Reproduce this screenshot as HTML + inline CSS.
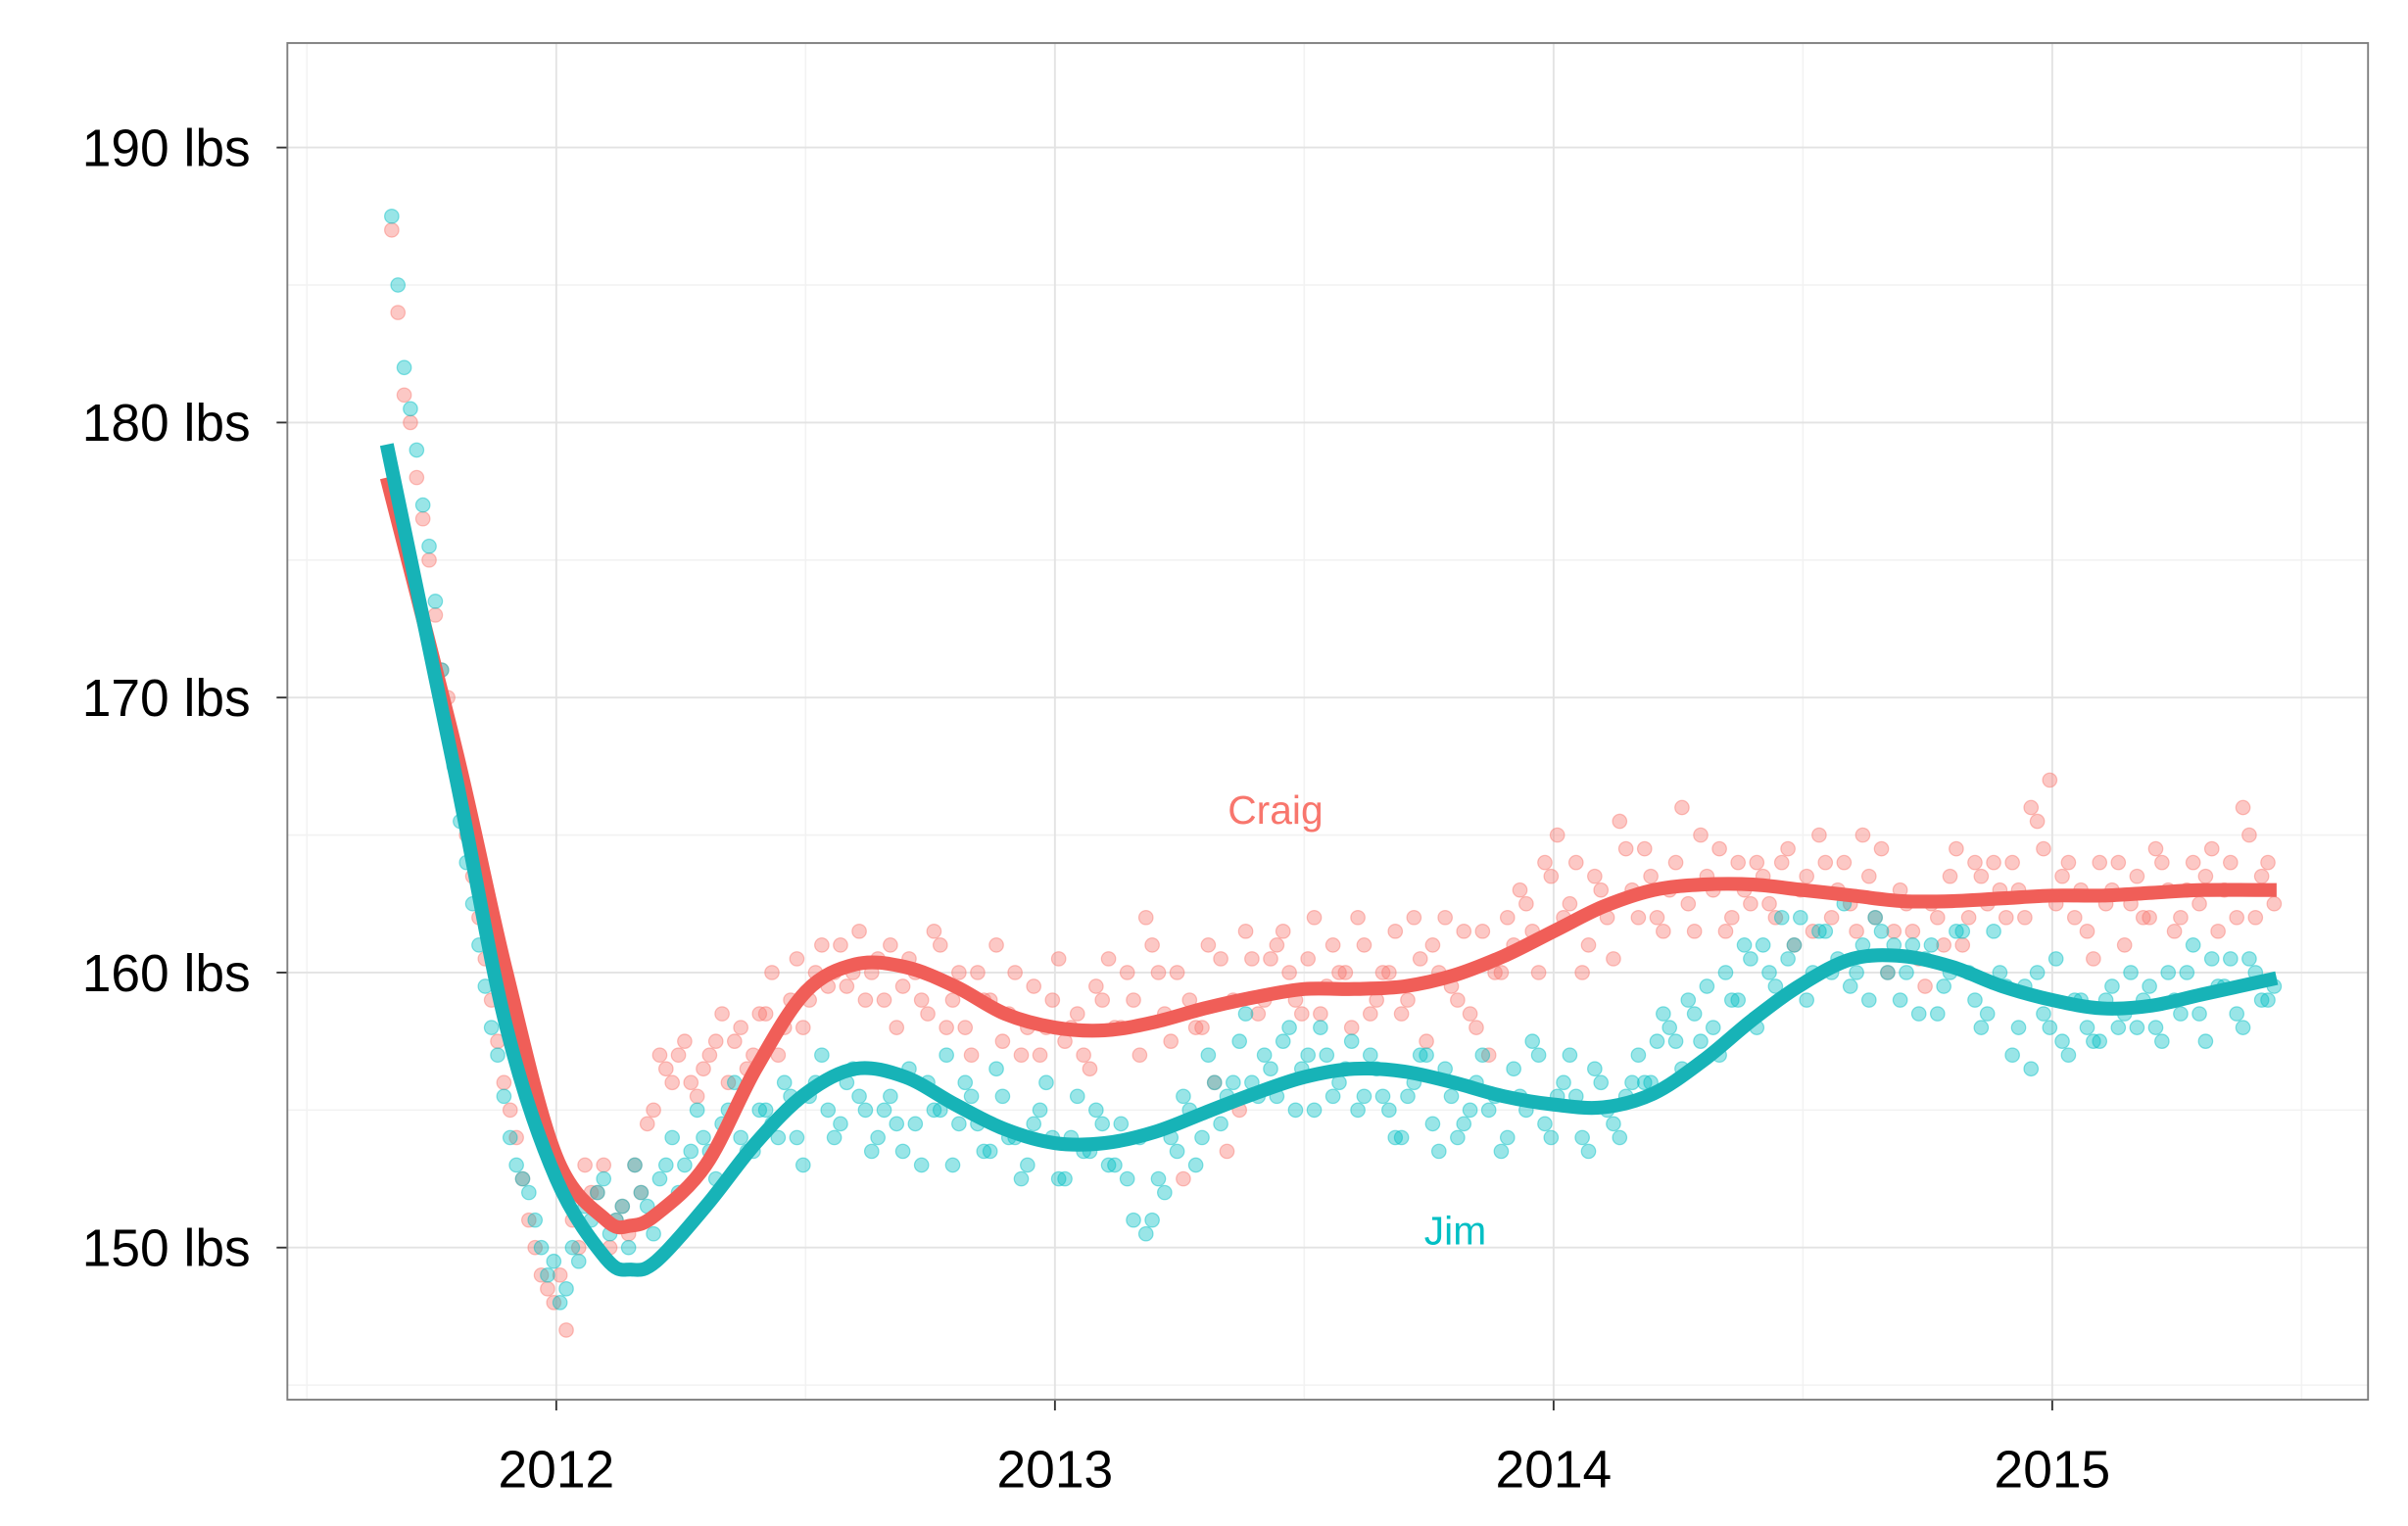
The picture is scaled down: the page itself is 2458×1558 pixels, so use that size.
<!DOCTYPE html>
<html><head><meta charset="utf-8"><style>
html,body{margin:0;padding:0;background:#fff;}
svg{display:block;}
text{font-family:"Liberation Sans",Arial,sans-serif;}
</style></head><body>
<svg id="chart" width="2458" height="1558" viewBox="0 0 1567 993.2" xmlns="http://www.w3.org/2000/svg">
<rect x="0" y="0" width="1567" height="994" fill="#fff"/>
<g id="grid"></g>
<g id="points"></g>
<g id="lines"></g>
<g id="axes"></g>
<rect x="187" y="28" width="1354" height="883" fill="none" stroke="#7f7f7f" stroke-width="1.2"/>
<text x="830" y="536" fill="#F8766D" font-size="26" text-anchor="middle">Craig</text>
<text x="947" y="810" fill="#00BFC4" font-size="26" text-anchor="middle">Jim</text>
</svg>
<script>
const yTicks=[150,160,170,180,190];
const yTickLabels=["150 lbs","160 lbs","170 lbs","180 lbs","190 lbs"];
const xTicks=[2012,2013,2014,2015];
const xTickLabels=["2012","2013","2014","2015"];
const pointStart=2011.67, pointStep=0.025;
const craigPoints=[187,181,178,175,171,168,165,162,159,156,
154,151,149,148,147,150,152,153,151,150.5,
152,155,156.5,157,156,156.5,157.5,156,158,157,
158.5,157,159,158,160,159.5,161,160,159,160.5,
161,159.5,160,158.5,161,159,158,160,159,157.5,
160,158,157,159,157.5,158.5,156.5,159,158,160,
157,161,158.5,160,159,158,156,153.5,155,160.5,
159,161,160,158.5,162,159.5,160,158,161,159,
160,158.5,162,157.5,160,159.5,161.5,158,157,160,
161,162.5,160,163.5,162,164,161,163,160.5,164.5,
162,163.5,161.5,164,162.5,165,163,161.5,164,162.5,
163.5,162,164.5,163,161.5,164,163,162.5,165,162,
160,163,161.5,159.5,162,163.5,161,164,162.5,163,
164,162,165.5,167,163.5,162,161.5,164,163,161,
163.5,162,164,161.5,163,162.5,164.5,163,162,165,163.5,162.5];
const craigPoints2=[184,180,176.5,173,170,166.5,163.5,160.5,157.5,155,
152.5,150,148.5,149,151,153,152,150,151.5,153,
154.5,157,156,157.5,155.5,157,158.5,157.5,156.5,158.5,
160,158,160.5,159,161,160,159.5,161.5,160,159,
158,160.5,159,161.5,158,160,157,159,161,158.5,
157,159.5,158,160.5,158,157,159.5,160.5,158,159,
162,160,157.5,152.5,158,161,160.5,159,161.5,158.5,
160.5,161.5,159,160.5,158.5,161,160,162,158.5,160,
161.5,159,160.5,161,162,159,158.5,161.5,160,162,
163,161.5,164,165,162.5,160,163.5,162,165.5,163,
164.5,162,163,166,161.5,163.5,164.5,162,163,164,
162.5,164,161,163.5,165,162,164,161.5,163.5,164.5,
161.5,162.5,160.5,162.5,161,164.5,162,163.5,164,162,
163,166,164.5,162.5,164,163,160.5,162.5,164,162.5,
162,164.5,163,162,164,163.5,161.5,164,166,162,164];
const jimPoints=[187.5,182,179,175.5,171,167.5,164,161,158,155.5,
153,152,150,149.5,148.5,149.5,151,152.5,151,150,
152,150.5,153,152,153.5,154,152.5,155,154,153.5,
155,154,155.5,153,156,155,154.5,156.5,155,154,
155.5,153.5,154.5,156,155,153,156,154.5,153.5,155.5,
154,153,155,154,152.5,155.5,153.5,154.5,153,152.5,
154,151,152,153.5,155,154,156,155.5,157.5,156,
157,155.5,158,156.5,155,157,156,157.5,155.5,156.5,
155,154,156,157,153.5,155.5,154.5,156,155,153.5,
156.5,155,157,154,156,155.5,153.5,156,154.5,155.5,
157,156,158.5,157.5,159,157.5,158,160,159,160.5,
161,159.5,160.5,162,160,161.5,160.5,159.5,161,162,
160,159,161,160.5,158.5,160,161.5,159,158.5,160,
157,159.5,160,158,157.5,159,158,157.5,159.5,158.5,
158,159.5,157.5,159,160,158.5,160.5,159.5,158.5,160.5,159,159.5];
const jimPoints2=[185,180.5,177,173.5,169,165.5,162.5,159.5,157,154,
152.5,151,149,148,150,151.5,152,150.5,151.5,153,
151.5,152.5,154,153,155,153.5,154.5,156,153.5,155,
154.5,156,154,155.5,157,154,156,155.5,153.5,155,
154.5,156.5,153,155,157,154.5,155.5,153.5,156.5,154,
152.5,154.5,156,152.5,154,153.5,155,153,154.5,151,
150.5,152.5,154,155.5,153,157,154.5,156,158.5,155.5,
156.5,157.5,155,157,158,155.5,156.5,155,157,155.5,
154,155.5,157,154.5,156.5,154,155,157,155.5,154,
155.5,157.5,154.5,155.5,157,154,156.5,155,154,156,
156,157.5,158,156.5,158.5,159.5,157,159,161,158,
160,162,161,159,161.5,160,162.5,160,159,161.5,
161,160,158.5,161,159.5,161.5,160,158,161.5,159.5,
158,156.5,158.5,160.5,157,159,157.5,159,158,160,
159,158,160,158.5,161,157.5,159.5,160.5,158,160,159];
const smoothDates=[2011.66,2011.8,2011.9,2012.0,2012.1,2012.15,2012.2,2012.3,2012.4,2012.5,2012.6,2012.7,2012.8,2012.9,2013.0,2013.1,2013.2,2013.3,2013.4,2013.5,2013.6,2013.7,2013.8,2013.9,2014.0,2014.1,2014.2,2014.3,2014.4,2014.5,2014.6,2014.7,2014.8,2014.9,2015.0,2015.1,2015.2,2015.3,2015.45];
const craigSmooth=[178,168,160,153.3,151,150.8,151.2,153,156.5,159.3,160.3,160.2,159.5,158.5,158,157.9,158.2,158.7,159.1,159.4,159.4,159.5,159.9,160.6,161.5,162.4,163,163.2,163.2,163,162.8,162.6,162.6,162.7,162.8,162.8,162.9,163,163];
const jimSmooth=[179.2,167,158,152.5,149.6,149.2,149.5,151.5,153.8,155.6,156.5,156.2,155.2,154.3,153.8,153.8,154.2,154.9,155.6,156.2,156.5,156.4,156,155.5,155.2,155.1,155.6,156.8,158.3,159.6,160.5,160.6,160.2,159.5,159,158.7,158.8,159.2,159.8];

const NS="http://www.w3.org/2000/svg";
const X0=187,X1=1541,Y0=28,Y1=911;
function xs(t){return 362+(t-2012)*324.5;}
function ys(v){return 812-(v-150)*17.9;}
function mk(tag,attrs,parent){const e=document.createElementNS(NS,tag);for(const k in attrs)e.setAttribute(k,attrs[k]);parent.appendChild(e);return e;}
const grid=document.getElementById('grid'),pts=document.getElementById('points'),lines=document.getElementById('lines'),axes=document.getElementById('axes');
for(let v=145;v<=195;v+=10){const y=ys(v);if(y<Y0||y>Y1)continue;const l=mk('line',{x1:X0,x2:X1,y1:y,y2:y,stroke:'#f2f2f2','stroke-width':1},grid);

}
for(let t=2011.5;t<=2015.5;t+=1){const x=xs(t);const l=mk('line',{x1:x,x2:x,y1:Y0,y2:Y1,stroke:'#f2f2f2','stroke-width':1},grid);

}
yTicks.forEach((v,i)=>{const y=ys(v);
const l=mk('line',{x1:X0,x2:X1,y1:y,y2:y,stroke:'#e3e3e3','stroke-width':1.2},grid);


const tk=mk('line',{x1:X0-7,x2:X0,y1:y,y2:y,stroke:'#333','stroke-width':1.2},axes);


const tx=mk('text',{x:X0-24,y:y+12,'font-size':34,'text-anchor':'end',fill:'#000'},axes);tx.textContent=yTickLabels[i];

});
xTicks.forEach((t,i)=>{const x=xs(t);
const l=mk('line',{x1:x,x2:x,y1:Y0,y2:Y1,stroke:'#e3e3e3','stroke-width':1.2},grid);


const tk=mk('line',{x1:x,x2:x,y1:Y1,y2:Y1+7,stroke:'#333','stroke-width':1.2},axes);


const tx=mk('text',{x:x,y:968,'font-size':34,'text-anchor':'middle',fill:'#000'},axes);tx.textContent=xTickLabels[i];

});
function drawPts(arr,start,col,name){arr.forEach((v,i)=>{const c=mk('circle',{cx:xs(start+i*pointStep),cy:ys(v),r:4.6,fill:col,'fill-opacity':0.4,stroke:col,'stroke-opacity':0.45,'stroke-width':0.8},pts);

});}
drawPts(craigPoints,pointStart,'#F8766D','craig-point');
drawPts(craigPoints2,pointStart+pointStep/2,'#F8766D','craig-point');
drawPts(jimPoints,pointStart,'#00BFC4','jim-point');
drawPts(jimPoints2,pointStart+pointStep/2,'#00BFC4','jim-point');
function drawLine(arr,col,name){
const P=arr.map((v,i)=>[xs(smoothDates[i]),ys(v)]);
let d='M'+P[0][0].toFixed(1)+','+P[0][1].toFixed(1);
for(let i=0;i<P.length-1;i++){const p0=P[Math.max(0,i-1)],p1=P[i],p2=P[i+1],p3=P[Math.min(P.length-1,i+2)];
const c1=[p1[0]+(p2[0]-p0[0])/6,p1[1]+(p2[1]-p0[1])/6],c2=[p2[0]-(p3[0]-p1[0])/6,p2[1]-(p3[1]-p1[1])/6];
d+=' C'+c1[0].toFixed(1)+','+c1[1].toFixed(1)+' '+c2[0].toFixed(1)+','+c2[1].toFixed(1)+' '+p2[0].toFixed(1)+','+p2[1].toFixed(1);}
const p=mk('path',{d:d,fill:'none',stroke:col,'stroke-width':9,'stroke-linejoin':'round'},lines);

}
drawLine(craigSmooth,'#F05E58','craig-trend-line');
drawLine(jimSmooth,'#17B3B7','jim-trend-line');
</script>
</body></html>
